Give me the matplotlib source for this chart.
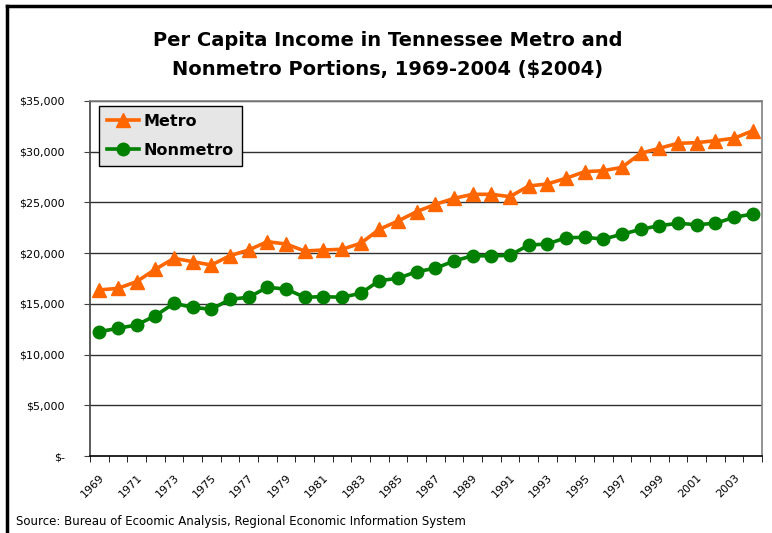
import numpy as np
import matplotlib.pyplot as plt
from matplotlib.ticker import FuncFormatter
from matplotlib.lines import Line2D

# Dados (mil dólares de 2004)
anos = list(range(1969, 2005))
metro = [16.37, 16.53, 17.19, 18.41, 19.49, 19.16, 18.83, 19.75, 20.31, 21.13,
         20.90, 20.21, 20.31, 20.38, 20.97, 22.35, 23.17, 24.09, 24.81, 25.40,
         25.80, 25.80, 25.57, 26.62, 26.82, 27.38, 28.03, 28.13, 28.46, 29.84,
         30.34, 30.83, 30.89, 31.09, 31.32, 32.07]
nonmetro = [12.26, 12.59, 12.92, 13.83, 15.05, 14.66, 14.46, 15.45, 15.65, 16.63,
            16.46, 15.65, 15.71, 15.65, 16.04, 17.28, 17.52, 18.17, 18.51, 19.22,
            19.75, 19.72, 19.79, 20.80, 20.90, 21.52, 21.56, 21.39, 21.86, 22.35,
            22.71, 22.94, 22.81, 22.94, 23.53, 23.86]

metro = np.array(metro) * 1000
nonmetro = np.array(nonmetro) * 1000
x = np.arange(len(anos))

fig = plt.figure(figsize=(7.72, 5.33), dpi=100)
ax = fig.add_axes([90 / 772, 77 / 533, 672 / 772, 355 / 533])

# moldura externa (só topo e esquerda visíveis)
fig.add_artist(Line2D([7 / 772, 7 / 772], [0, 1 - 6 / 533], transform=fig.transFigure, color='black', lw=2.5))
fig.add_artist(Line2D([7 / 772, 1], [1 - 6 / 533, 1 - 6 / 533], transform=fig.transFigure, color='black', lw=2.5))

for y in range(5000, 35001, 5000):
    ax.axhline(y, color='#303030', lw=1.0, zorder=1)

ax.plot(x, metro, color='#FF6600', marker='^', markersize=9.5, lw=2.6, label='Metro', zorder=3)
ax.plot(x, nonmetro, color='#008000', marker='o', markersize=9, lw=2.6, label='Nonmetro', zorder=3)

ax.set_xlim(-0.5, len(anos) - 0.5)
ax.set_ylim(0, 35000)
ax.set_yticks(range(0, 35001, 5000))
ax.yaxis.set_major_formatter(FuncFormatter(lambda v, p: '$-' if v == 0 else f'${int(v):,}'))
ax.tick_params(axis='y', direction='out', length=4, labelsize=8, pad=14, color='#404040')

ax.set_xticks(x[::2])
ax.set_xticklabels([str(a) for a in anos[::2]], rotation=45, ha='right', rotation_mode='anchor', fontsize=8)
ax.set_xticks(np.arange(-0.5, len(anos), 1), minor=True)
ax.tick_params(axis='x', which='major', length=0, pad=12)
ax.tick_params(axis='x', which='minor', direction='out', length=4, color='black')

ax.spines['top'].set_color('#808080')
ax.spines['right'].set_color('#808080')
ax.spines['left'].set_color('#404040')
ax.spines['bottom'].set_color('black')
for s in ax.spines.values():
    s.set_linewidth(1.2)

leg = ax.legend(loc='upper left', bbox_to_anchor=(9 / 672, 1 - 5 / 355), fancybox=False,
                framealpha=1, facecolor='#E6E6E6', edgecolor='black',
                prop={'weight': 'bold', 'size': 11.5}, handlelength=2.0,
                borderpad=0.5, labelspacing=0.85, handletextpad=0.3, borderaxespad=0)
leg.get_frame().set_linewidth(1.0)

fig.text(388 / 772, 1 - 55 / 533, 'Per Capita Income in Tennessee Metro and\nNonmetro Portions, 1969-2004 ($2004)',
         ha='center', va='center', fontsize=14, fontweight='bold', linespacing=1.6)
fig.text(16 / 772, 1 - 521 / 533, 'Source: Bureau of Ecoomic Analysis, Regional Economic Information System',
         ha='left', va='center', fontsize=8.5)

fig.savefig('out.png', dpi=100)
